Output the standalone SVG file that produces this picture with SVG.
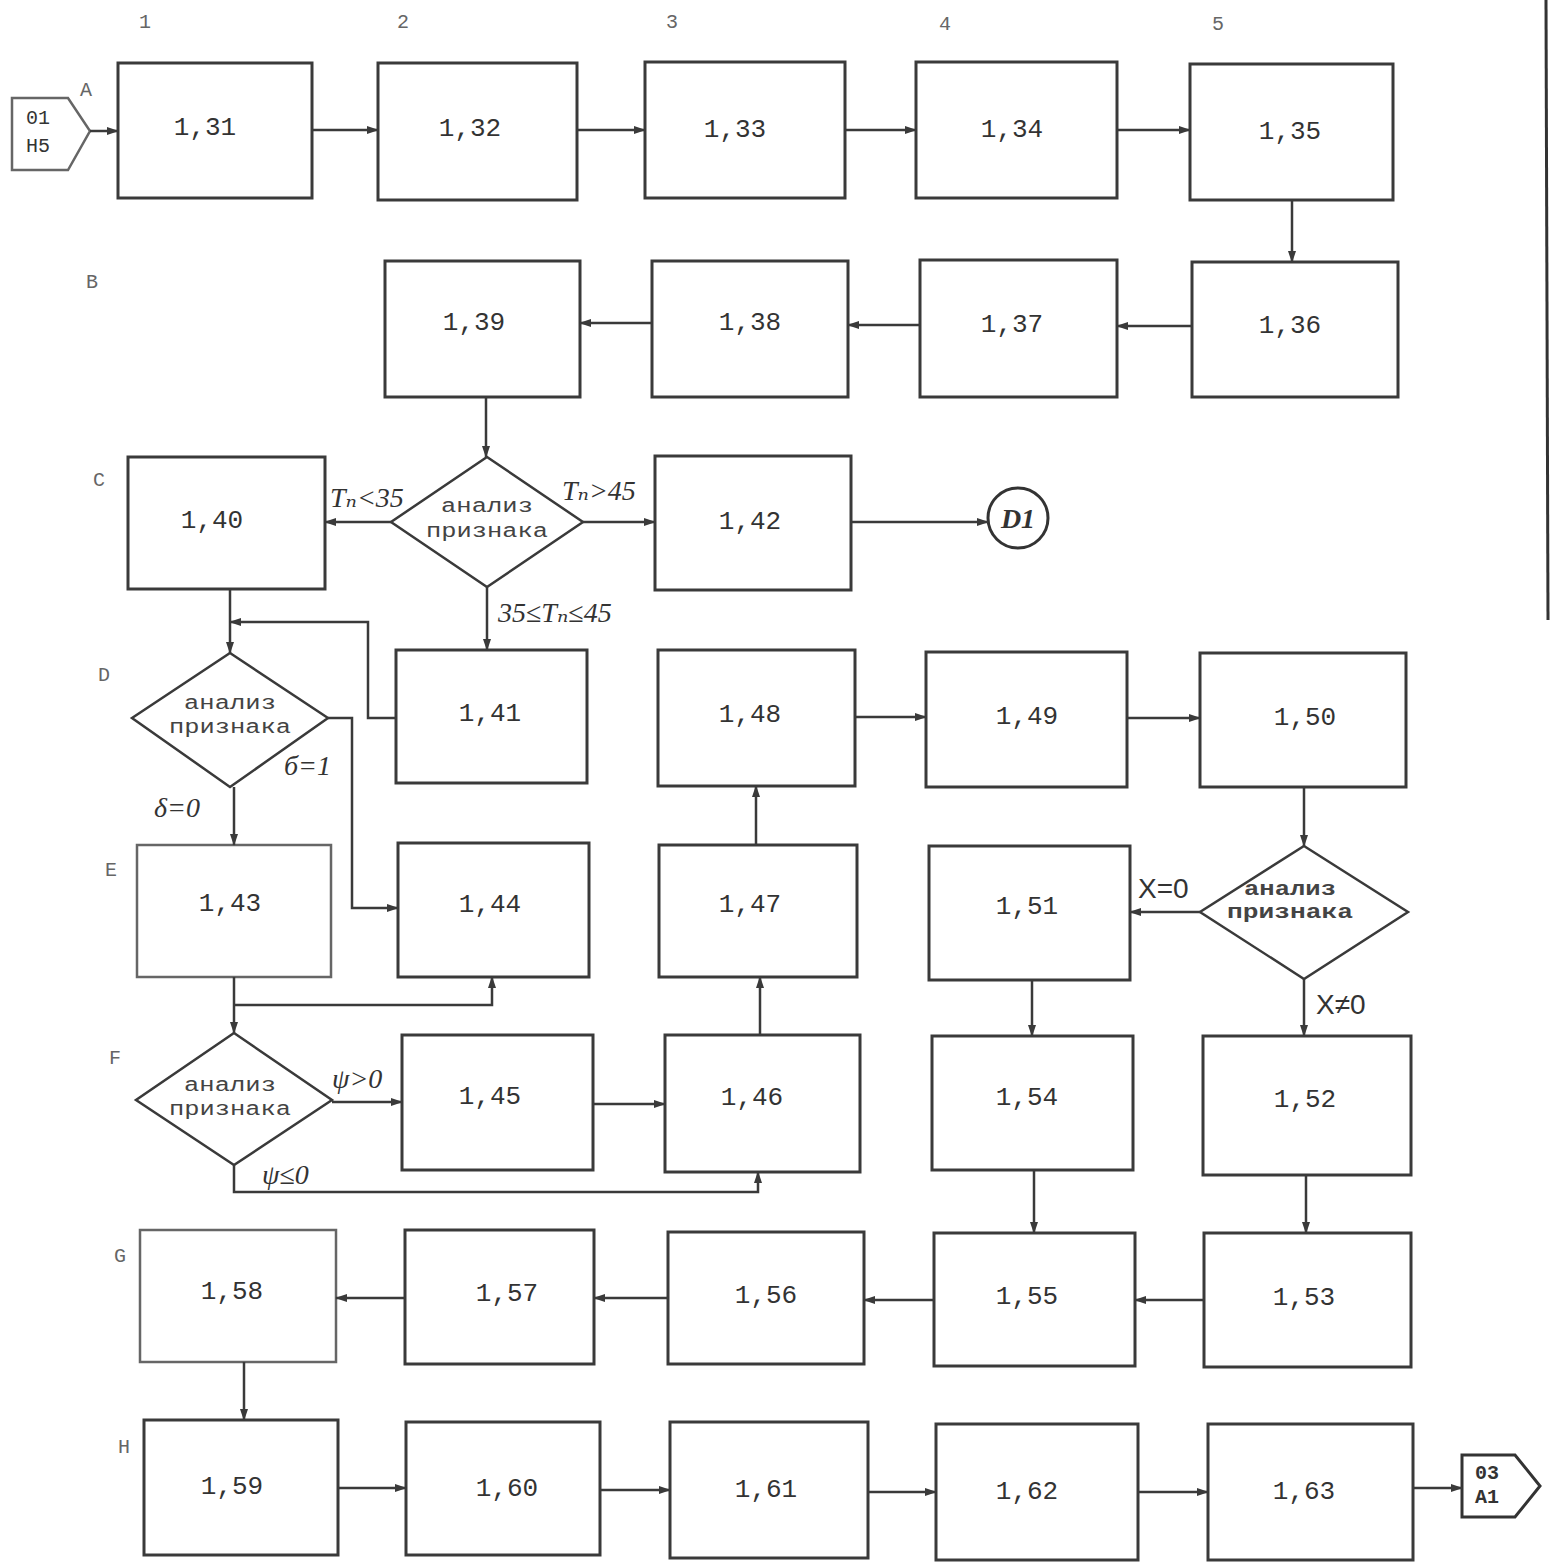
<svg xmlns="http://www.w3.org/2000/svg" width="1553" height="1563" viewBox="0 0 1553 1563">
<defs>
<style>
.b{fill:none;stroke:#3a3a3a;stroke-width:3}
.bl{fill:none;stroke:#666;stroke-width:2.5}
.d{fill:#fff;stroke:#3a3a3a;stroke-width:2.5}
.n{font-family:"Liberation Mono","DejaVu Sans Mono",monospace;font-size:26px;fill:#333;text-anchor:middle;dominant-baseline:central}
.dt{font-family:"Liberation Mono","DejaVu Sans Mono",monospace;font-size:20px;fill:#444;text-anchor:middle}
.h{font-family:"Liberation Serif","DejaVu Serif",serif;font-style:italic;font-size:28px;fill:#333}
.lab{font-family:"Liberation Mono","DejaVu Sans Mono",monospace;font-size:20px;fill:#666;text-anchor:middle}
.c{fill:none;stroke:#3a3a3a;stroke-width:2.5}
</style>
<marker id="a" viewBox="0 0 12 10" refX="11" refY="5" markerWidth="12" markerHeight="10" markerUnits="userSpaceOnUse" orient="auto">
<path d="M0,1 L12,5 L0,9 Z" fill="#3a3a3a"/>
</marker>
</defs>
<rect width="1553" height="1563" fill="#fff"/>

<g id="labels">
<text class="lab" x="145" y="28">1</text>
<text class="lab" x="403" y="28">2</text>
<text class="lab" x="672" y="28">3</text>
<text class="lab" x="945" y="30">4</text>
<text class="lab" x="1218" y="30">5</text>
<text class="lab" x="86" y="96">A</text>
<text class="lab" x="92" y="288">B</text>
<text class="lab" x="99" y="486">C</text>
<text class="lab" x="104" y="681">D</text>
<text class="lab" x="111" y="876">E</text>
<text class="lab" x="115" y="1064">F</text>
<text class="lab" x="120" y="1262">G</text>
<text class="lab" x="124" y="1453">H</text>
</g>

<line x1="1546" y1="0" x2="1548" y2="620" stroke="#333" stroke-width="3"/>

<g id="in">
<path class="bl" d="M12,98 H68 L90,131 L68,170 H12 Z"/>
<text class="n" x="38" y="118" style="font-size:20px">01</text>
<text class="n" x="38" y="146" style="font-size:20px">Н5</text>
</g>
<g id="out">
<path d="M1462,1455 H1515 L1540,1486 L1515,1517 H1462 Z" fill="#fff" stroke="#333" stroke-width="3"/>
<text class="n" x="1487" y="1473" style="font-size:20px;font-weight:bold">03</text>
<text class="n" x="1487" y="1497" style="font-size:20px;font-weight:bold">А1</text>
</g>

<g id="n131"><rect class="b" x="118" y="63" width="194" height="135"/><text class="n" x="205" y="128">1,31</text></g>
<g id="n132"><rect class="b" x="378" y="63" width="199" height="137"/><text class="n" x="470" y="129">1,32</text></g>
<g id="n133"><rect class="b" x="645" y="62" width="200" height="136"/><text class="n" x="735" y="130">1,33</text></g>
<g id="n134"><rect class="b" x="916" y="62" width="201" height="136"/><text class="n" x="1012" y="130">1,34</text></g>
<g id="n135"><rect class="b" x="1190" y="64" width="203" height="136"/><text class="n" x="1290" y="132">1,35</text></g>

<g id="n139"><rect class="b" x="385" y="261" width="195" height="136"/><text class="n" x="474" y="323">1,39</text></g>
<g id="n138"><rect class="b" x="652" y="261" width="196" height="136"/><text class="n" x="750" y="323">1,38</text></g>
<g id="n137"><rect class="b" x="920" y="260" width="197" height="137"/><text class="n" x="1012" y="325">1,37</text></g>
<g id="n136"><rect class="b" x="1192" y="262" width="206" height="135"/><text class="n" x="1290" y="326">1,36</text></g>

<g id="n140"><rect class="b" x="128" y="457" width="197" height="132"/><text class="n" x="212" y="521">1,40</text></g>
<g id="dC"><path class="d" d="M487,457 L583,522 L487,587 L391,522 Z"/><text class="dt" x="487" y="512" textLength="92" lengthAdjust="spacingAndGlyphs">анализ</text><text class="dt" x="487" y="537" textLength="122" lengthAdjust="spacingAndGlyphs">признака</text></g>
<g id="n142"><rect class="b" x="655" y="456" width="196" height="134"/><text class="n" x="750" y="522">1,42</text></g>
<g id="D1"><circle cx="1018" cy="518" r="30" fill="none" stroke="#333" stroke-width="3"/><text class="h" x="1018" y="528" text-anchor="middle" style="font-weight:bold">D1</text></g>

<g id="dD"><path class="d" d="M230,653 L328,718 L230,787 L132,718 Z"/><text class="dt" x="230" y="709" textLength="92" lengthAdjust="spacingAndGlyphs">анализ</text><text class="dt" x="230" y="733" textLength="122" lengthAdjust="spacingAndGlyphs">признака</text></g>
<g id="n141"><rect class="b" x="396" y="650" width="191" height="133"/><text class="n" x="490" y="714">1,41</text></g>
<g id="n148"><rect class="b" x="658" y="650" width="197" height="136"/><text class="n" x="750" y="715">1,48</text></g>
<g id="n149"><rect class="b" x="926" y="652" width="201" height="135"/><text class="n" x="1027" y="717">1,49</text></g>
<g id="n150"><rect class="b" x="1200" y="653" width="206" height="134"/><text class="n" x="1305" y="718">1,50</text></g>

<g id="n143"><rect class="bl" x="137" y="845" width="194" height="132"/><text class="n" x="230" y="904">1,43</text></g>
<g id="n144"><rect class="b" x="398" y="843" width="191" height="134"/><text class="n" x="490" y="905">1,44</text></g>
<g id="n147"><rect class="b" x="659" y="845" width="198" height="132"/><text class="n" x="750" y="905">1,47</text></g>
<g id="n151"><rect class="b" x="929" y="846" width="201" height="134"/><text class="n" x="1027" y="907">1,51</text></g>
<g id="dE"><path class="d" d="M1304,846 L1408,912 L1304,979 L1200,912 Z"/><text class="dt" x="1290" y="895" textLength="92" lengthAdjust="spacingAndGlyphs" style="font-weight:bold">анализ</text><text class="dt" x="1290" y="918" textLength="126" lengthAdjust="spacingAndGlyphs" style="font-weight:bold">признака</text></g>

<g id="dF"><path class="d" d="M234,1033 L332,1100 L234,1165 L136,1100 Z"/><text class="dt" x="230" y="1091" textLength="92" lengthAdjust="spacingAndGlyphs">анализ</text><text class="dt" x="230" y="1115" textLength="122" lengthAdjust="spacingAndGlyphs">признака</text></g>
<g id="n145"><rect class="b" x="402" y="1035" width="191" height="135"/><text class="n" x="490" y="1097">1,45</text></g>
<g id="n146"><rect class="b" x="665" y="1035" width="195" height="137"/><text class="n" x="752" y="1098">1,46</text></g>
<g id="n154"><rect class="b" x="932" y="1036" width="201" height="134"/><text class="n" x="1027" y="1098">1,54</text></g>
<g id="n152"><rect class="b" x="1203" y="1036" width="208" height="139"/><text class="n" x="1305" y="1100">1,52</text></g>

<g id="n158"><rect class="bl" x="140" y="1230" width="196" height="132"/><text class="n" x="232" y="1292">1,58</text></g>
<g id="n157"><rect class="b" x="405" y="1230" width="189" height="134"/><text class="n" x="507" y="1294">1,57</text></g>
<g id="n156"><rect class="b" x="668" y="1232" width="196" height="132"/><text class="n" x="766" y="1296">1,56</text></g>
<g id="n155"><rect class="b" x="934" y="1233" width="201" height="133"/><text class="n" x="1027" y="1297">1,55</text></g>
<g id="n153"><rect class="b" x="1204" y="1233" width="207" height="134"/><text class="n" x="1304" y="1298">1,53</text></g>

<g id="n159"><rect class="b" x="144" y="1420" width="194" height="135"/><text class="n" x="232" y="1487">1,59</text></g>
<g id="n160"><rect class="b" x="406" y="1422" width="194" height="133"/><text class="n" x="507" y="1489">1,60</text></g>
<g id="n161"><rect class="b" x="670" y="1422" width="198" height="136"/><text class="n" x="766" y="1490">1,61</text></g>
<g id="n162"><rect class="b" x="936" y="1424" width="202" height="136"/><text class="n" x="1027" y="1492">1,62</text></g>
<g id="n163"><rect class="b" x="1208" y="1424" width="205" height="136"/><text class="n" x="1304" y="1492">1,63</text></g>

<g id="connectors">
<line class="c" x1="90" y1="131" x2="118" y2="131" marker-end="url(#a)"/>
<line class="c" x1="312" y1="130" x2="378" y2="130" marker-end="url(#a)"/>
<line class="c" x1="577" y1="130" x2="645" y2="130" marker-end="url(#a)"/>
<line class="c" x1="845" y1="130" x2="916" y2="130" marker-end="url(#a)"/>
<line class="c" x1="1117" y1="130" x2="1190" y2="130" marker-end="url(#a)"/>
<line class="c" x1="1292" y1="200" x2="1292" y2="262" marker-end="url(#a)"/>
<line class="c" x1="1192" y1="326" x2="1117" y2="326" marker-end="url(#a)"/>
<line class="c" x1="920" y1="325" x2="848" y2="325" marker-end="url(#a)"/>
<line class="c" x1="652" y1="323" x2="580" y2="323" marker-end="url(#a)"/>
<line class="c" x1="486" y1="397" x2="486" y2="457" marker-end="url(#a)"/>
<line class="c" x1="391" y1="522" x2="325" y2="522" marker-end="url(#a)"/>
<line class="c" x1="583" y1="522" x2="655" y2="522" marker-end="url(#a)"/>
<line class="c" x1="487" y1="587" x2="487" y2="650" marker-end="url(#a)"/>
<line class="c" x1="851" y1="522" x2="988" y2="522" marker-end="url(#a)"/>
<line class="c" x1="230" y1="589" x2="230" y2="653" marker-end="url(#a)"/>
<path class="c" d="M396,718 H368 V622 H230" marker-end="url(#a)"/>
<path class="c" d="M328,718 H352 V908 H398" marker-end="url(#a)"/>
<line class="c" x1="234" y1="787" x2="234" y2="845" marker-end="url(#a)"/>
<line class="c" x1="234" y1="977" x2="234" y2="1033" marker-end="url(#a)"/>
<path class="c" d="M234,1005 H492 V977" marker-end="url(#a)"/>
<line class="c" x1="332" y1="1102" x2="402" y2="1102" marker-end="url(#a)"/>
<path class="c" d="M234,1165 V1192 H758 V1172" marker-end="url(#a)"/>
<line class="c" x1="593" y1="1104" x2="665" y2="1104" marker-end="url(#a)"/>
<line class="c" x1="760" y1="1035" x2="760" y2="977" marker-end="url(#a)"/>
<line class="c" x1="756" y1="845" x2="756" y2="786" marker-end="url(#a)"/>
<line class="c" x1="855" y1="717" x2="926" y2="717" marker-end="url(#a)"/>
<line class="c" x1="1127" y1="718" x2="1200" y2="718" marker-end="url(#a)"/>
<line class="c" x1="1304" y1="787" x2="1304" y2="846" marker-end="url(#a)"/>
<line class="c" x1="1200" y1="912" x2="1130" y2="912" marker-end="url(#a)"/>
<line class="c" x1="1304" y1="979" x2="1304" y2="1036" marker-end="url(#a)"/>
<line class="c" x1="1032" y1="980" x2="1032" y2="1036" marker-end="url(#a)"/>
<line class="c" x1="1034" y1="1170" x2="1034" y2="1233" marker-end="url(#a)"/>
<line class="c" x1="1306" y1="1175" x2="1306" y2="1233" marker-end="url(#a)"/>
<line class="c" x1="1204" y1="1300" x2="1135" y2="1300" marker-end="url(#a)"/>
<line class="c" x1="934" y1="1300" x2="864" y2="1300" marker-end="url(#a)"/>
<line class="c" x1="668" y1="1298" x2="594" y2="1298" marker-end="url(#a)"/>
<line class="c" x1="405" y1="1298" x2="336" y2="1298" marker-end="url(#a)"/>
<line class="c" x1="244" y1="1362" x2="244" y2="1420" marker-end="url(#a)"/>
<line class="c" x1="338" y1="1488" x2="406" y2="1488" marker-end="url(#a)"/>
<line class="c" x1="600" y1="1490" x2="670" y2="1490" marker-end="url(#a)"/>
<line class="c" x1="868" y1="1492" x2="936" y2="1492" marker-end="url(#a)"/>
<line class="c" x1="1138" y1="1492" x2="1208" y2="1492" marker-end="url(#a)"/>
<line class="c" x1="1413" y1="1488" x2="1462" y2="1488" marker-end="url(#a)"/>
</g>

<g id="conditions">
<text class="h" x="330" y="507">Tₙ&lt;35</text>
<text class="h" x="562" y="500">Tₙ&gt;45</text>
<text class="h" x="498" y="622">35≤Tₙ≤45</text>
<text class="h" x="284" y="775">б=1</text>
<text class="h" x="154" y="817">δ=0</text>
<text class="h" x="332" y="1088">ψ&gt;0</text>
<text class="h" x="262" y="1184">ψ≤0</text>
<text class="h" x="1138" y="898" style="font-style:normal;font-family:'Liberation Sans',sans-serif">X=0</text>
<text class="h" x="1316" y="1014" style="font-style:normal;font-family:'Liberation Sans',sans-serif">X≠0</text>
</g>
</svg>
